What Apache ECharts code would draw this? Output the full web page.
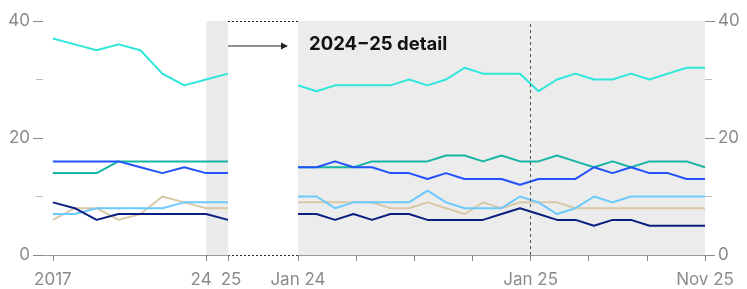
<!DOCTYPE html>
<html>
<head>
<meta charset="utf-8">
<script src="https://cdn.jsdelivr.net/npm/echarts@6/dist/echarts.min.js"></script>
<style>html,body{margin:0;padding:0;background:#fff}</style>
</head>
<body>
<div id="main" style="width:747px;height:289px"></div>
<script>
// annual overview 2017-2025
var years = [2017, 2018, 2019, 2020, 2021, 2022, 2023, 2024, 2025]
var yrCyan  = [37, 36, 35, 36, 35, 31, 29, 30, 31]
var yrBlue  = [16, 16, 16, 16, 15, 14, 15, 14, 14]
var yrTeal  = [14, 14, 14, 16, 16, 16, 16, 16, 16]
var yrLight = [7, 7, 8, 8, 8, 8, 9, 9, 9]
var yrTan   = [6, 8, 8, 6, 7, 10, 9, 8, 8]
var yrNavy  = [9, 8, 6, 7, 7, 7, 7, 7, 6]

// monthly detail Jan 24 - Nov 25
var moCyan  = [29, 28, 29, 29, 29, 29, 30, 29, 30, 32, 31, 31, 31, 28, 30, 31, 30, 30, 31, 30, 31, 32, 32]
var moTeal  = [15, 15, 15, 15, 16, 16, 16, 16, 17, 17, 16, 17, 16, 16, 17, 16, 15, 16, 15, 16, 16, 16, 15]
var moBlue  = [15, 15, 16, 15, 15, 14, 14, 13, 14, 13, 13, 13, 12, 13, 13, 13, 15, 14, 15, 14, 14, 13, 13]
var moLight = [10, 10, 8, 9, 9, 9, 9, 11, 9, 8, 8, 8, 10, 9, 7, 8, 10, 9, 10, 10, 10, 10, 10]
var moTan   = [9, 9, 9, 9, 9, 8, 8, 9, 8, 7, 9, 8, 9, 9, 9, 8, 8, 8, 8, 8, 8, 8, 8]
var moNavy  = [7, 7, 6, 7, 6, 7, 7, 6, 6, 6, 6, 7, 8, 7, 6, 6, 5, 6, 6, 5, 5, 5, 5]

var yearTicks = [2017, 2024, 2025]
var monthTicks = [0, 22 / 7, 44 / 7, 66 / 7, 88 / 7, 110 / 7, 132 / 7, 22]
var monthLabelPos = [0, 88 / 7, 22]
var monthLabelText = ['Jan 24', 'Jan 25', 'Nov 25']

var colors = {
  cyan: '#2ee6d9',
  teal: '#17b5a3',
  blue: '#2251ff',
  light: '#6cc9fb',
  tan: '#d9c8a8',
  navy: '#0a1f80'
}
var font = 'Inter, "Liberation Sans", sans-serif'
var gray = '#8a8a8a'

function pairs (xs, ys) {
  return ys.map(function (v, i) { return [xs[i], v] })
}
var monthIdx = moCyan.map(function (v, i) { return i })

function line (name, xi, yi, xs, ys, color, extra) {
  var s = {
    name: name,
    type: 'line',
    xAxisIndex: xi,
    yAxisIndex: yi,
    data: pairs(xs, ys),
    symbol: 'none',
    lineStyle: { color: color, width: 2 },
    itemStyle: { color: color }
  }
  return Object.assign(s, extra || {})
}

function yAxis (gi, pos) {
  return {
    type: 'value',
    gridIndex: gi,
    position: pos,
    min: 0,
    max: 40,
    interval: 20,
    axisLine: { show: true, onZero: false, lineStyle: { color: 'rgba(0,0,0,0)' } },
    axisTick: { show: true, inside: false, length: 10, lineStyle: { color: gray, width: 1 } },
    minorTick: { show: true, splitNumber: 2, length: 7, lineStyle: { color: '#bdbdbd' } },
    splitLine: { show: false },
    axisLabel: { color: gray, fontSize: 17, fontFamily: font, margin: 13 }
  }
}

var option = {
  animation: false,
  grid: [
    { left: 43, right: 519, top: 21, bottom: 34 },
    { left: 298, right: 42, top: 21, bottom: 34, show: true, backgroundColor: '#ececec', borderWidth: 0 }
  ],
  xAxis: [
    {
      type: 'value',
      gridIndex: 0,
      min: 2016.55,
      max: 2025,
      axisLine: { onZero: false, lineStyle: { color: '#9a9a9a' } },
      axisTick: { show: true, length: 6, customValues: yearTicks, lineStyle: { color: gray } },
      splitLine: { show: false },
      axisLabel: {
        customValues: yearTicks,
        margin: 16,
        color: gray,
        fontSize: 17,
        fontFamily: font,
        formatter: function (v) {
          if (v === 2017) return '2017'
          if (v === 2024) return '{l|24}'
          return '{r|25}'
        },
        rich: {
          l: { padding: [0, 10, 0, 0], color: gray, fontSize: 17, fontFamily: font },
          r: { padding: [0, 0, 0, 6], color: gray, fontSize: 17, fontFamily: font }
        }
      }
    },
    {
      type: 'value',
      gridIndex: 1,
      min: 0,
      max: 22,
      axisLine: { onZero: false, lineStyle: { color: '#9a9a9a' } },
      axisTick: { show: true, length: 6, customValues: monthTicks, lineStyle: { color: gray } },
      splitLine: { show: false },
      axisLabel: {
        customValues: monthLabelPos,
        margin: 16,
        color: gray,
        fontSize: 17,
        fontFamily: font,
        formatter: function (v) {
          for (var i = 0; i < monthLabelPos.length; i++) {
            if (Math.abs(monthLabelPos[i] - v) < 0.01) return monthLabelText[i]
          }
          return ''
        }
      }
    }
  ],
  yAxis: [yAxis(0, 'left'), yAxis(1, 'right')],
  series: [
    line('tan', 0, 0, years, yrTan, colors.tan, {
      markArea: {
        silent: true,
        itemStyle: { color: '#ebebeb' },
        data: [[{ xAxis: 2024 }, { xAxis: 2025 }]]
      }
    }),
    line('light', 0, 0, years, yrLight, colors.light),
    line('navy', 0, 0, years, yrNavy, colors.navy),
    line('teal', 0, 0, years, yrTeal, colors.teal),
    line('blue', 0, 0, years, yrBlue, colors.blue),
    line('cyan', 0, 0, years, yrCyan, colors.cyan),
    line('tan', 1, 1, monthIdx, moTan, colors.tan, {
      markLine: {
        silent: true,
        symbol: 'none',
        label: { show: false },
        lineStyle: { color: '#555', type: [3, 3], width: 1 },
        data: [{ xAxis: 88 / 7 }]
      }
    }),
    line('light', 1, 1, monthIdx, moLight, colors.light),
    line('navy', 1, 1, monthIdx, moNavy, colors.navy),
    line('teal', 1, 1, monthIdx, moTeal, colors.teal),
    line('blue', 1, 1, monthIdx, moBlue, colors.blue),
    line('cyan', 1, 1, monthIdx, moCyan, colors.cyan)
  ],
  graphic: [
    { type: 'line', shape: { x1: 228, y1: 21.5, x2: 298, y2: 21.5 }, style: { stroke: '#222', lineWidth: 1, lineDash: [2, 2] } },
    { type: 'line', shape: { x1: 228, y1: 255.5, x2: 298, y2: 255.5 }, style: { stroke: '#222', lineWidth: 1, lineDash: [2, 2] } },
    { type: 'line', shape: { x1: 228, y1: 46, x2: 283, y2: 46 }, style: { stroke: '#222', lineWidth: 1.2 } },
    { type: 'polygon', shape: { points: [[281, 42.5], [288, 46], [281, 49.5]] }, style: { fill: '#222' } },
    { type: 'text', left: 309, top: 35, style: { text: '2024\u221225 detail', fill: '#111', font: 'bold 18.5px ' + font } }
  ]
}

var chart = echarts.init(document.getElementById('main'))
chart.setOption(option)
</script>
</body>
</html>
